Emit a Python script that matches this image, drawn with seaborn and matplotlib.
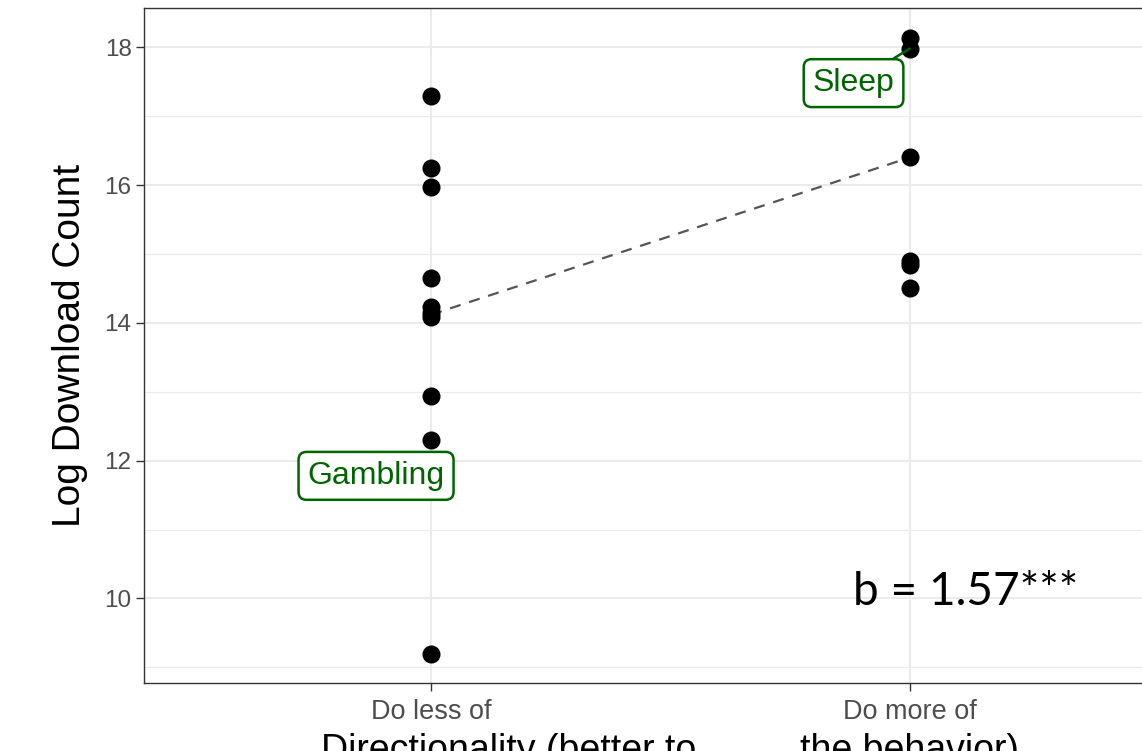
import numpy as np
import pandas as pd
import seaborn as sns
import matplotlib.pyplot as plt

categories = ["Do less of", "Do more of"]
less_values = [17.29, 16.25, 15.97, 14.65, 14.23, 14.15, 14.08, 12.94, 12.30, 9.20]
more_values = [18.13, 17.98, 16.41, 14.90, 14.84, 14.51]
fit_values = [14.12, 16.40]
labels = ["Gambling", "Sleep"]
y_ticks = [10, 12, 14, 16, 18]

df = pd.DataFrame({
    "dir": [categories[0]] * len(less_values) + [categories[1]] * len(more_values),
    "count": less_values + more_values,
})

sns.set_theme(style="white")
plt.rcParams["font.family"] = ["Liberation Sans", "DejaVu Sans"]

fig = plt.figure(figsize=(11.42, 7.51), dpi=100)
ax = fig.add_axes([0.1261, 0.0905, 0.9217, 0.8988])

# regression line between group positions
xpos = np.arange(len(categories))
ax.plot(xpos, fit_values, color="#555555", lw=1.6, ls=(0, (5, 4)), zorder=2)

sns.stripplot(data=df, x="dir", y="count", order=categories, jitter=False,
              color="black", size=13, linewidth=0, ax=ax, zorder=3)

ax.set_xlim(-0.6, 1.6)
ax.set_ylim(8.773, 18.57)
ax.set_yticks(y_ticks)
ax.set_yticks([9, 11, 13, 15, 17], minor=True)
ax.set_xticks(xpos)
ax.set_xticklabels(categories)

ax.grid(True, which="major", color="#EBEBEB", lw=1.5, zorder=0)
ax.grid(True, which="minor", axis="y", color="#EBEBEB", lw=0.8, zorder=0)
ax.set_axisbelow(True)
for s in ax.spines.values():
    s.set_color("#333333")
    s.set_linewidth(1.0)

ax.tick_params(axis="both", which="major", length=5.5, width=1, color="#333333",
               direction="out", labelcolor="#4D4D4D", left=True, bottom=True)
ax.tick_params(axis="y", which="major", labelsize=17.5, pad=3.5)
ax.tick_params(axis="x", which="major", labelsize=19.5, pad=6)
ax.tick_params(axis="both", which="minor", length=0)

ax.set_ylabel("Log Download Count", fontsize=28, color="black", labelpad=12)
ax.set_xlabel("Directionality (better to          the behavior)", fontsize=27,
              color="black", labelpad=6)

green = "#006400"
box = dict(boxstyle="round,pad=0.28,rounding_size=0.25", fc="white", ec=green, lw=1.8)
ax.annotate(labels[0], xy=(0, less_values[8]), xytext=(-0.115, 11.78),
            ha="center", va="center", fontsize=23, color=green, bbox=box, zorder=4)
ax.annotate(labels[1], xy=(1, more_values[1]), xytext=(0.883, 17.48),
            ha="center", va="center", fontsize=23, color=green, bbox=box, zorder=4,
            arrowprops=dict(arrowstyle="-", color=green, lw=1.8, shrinkA=0, shrinkB=0))

ax.text(1.117, 10.09, "b = 1.57***", fontsize=33, ha="center", va="center",
        color="black", family=["Lato", "DejaVu Sans"], zorder=4)

fig.savefig("out.png", dpi=100)
